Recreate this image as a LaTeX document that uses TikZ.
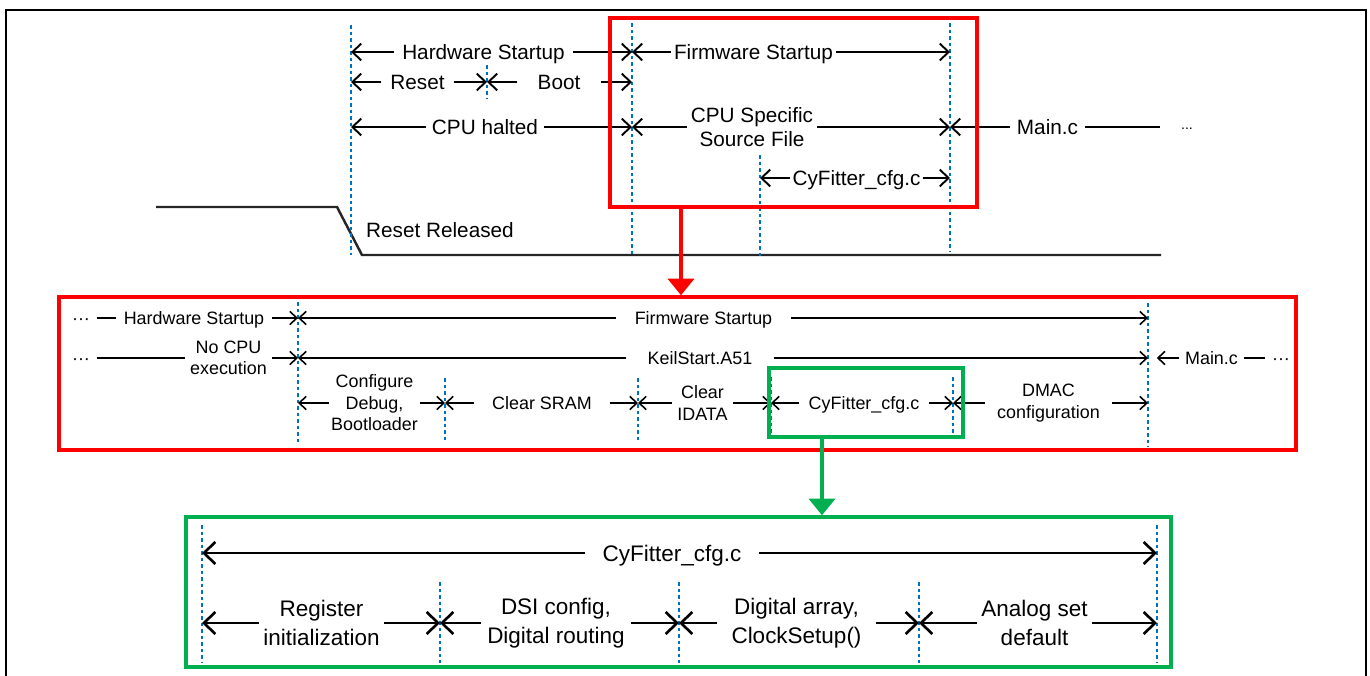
\documentclass[tikz,border=0pt]{standalone}
\usepackage{fontspec}
\setmainfont{Liberation Sans}
\usetikzlibrary{arrows.meta,positioning,fit}

\begin{document}
\begin{tikzpicture}
[x=0.02cm,y=-0.02cm,
% Styles
boundary/.style={boundcolor,line width=1.1pt,dash pattern=on 2.2pt off 1.5pt},
signal/.style={black!85,line width=1.4pt},
top span/.style={line width=1.1pt,-{Straight Barb[length=5pt,width=9.5pt]}},
mid span/.style={line width=0.9pt,-{Straight Barb[length=4pt,width=7.5pt]}},
bot span/.style={line width=1.5pt,-{Straight Barb[length=6.5pt,width=12.5pt]}},
top text/.style={font=\fontsize{11.8}{13.6}\selectfont,align=center,inner ysep=1pt},
mid text/.style={font=\fontsize{10.2}{12.2}\selectfont,align=center,inner ysep=1pt},
bot text/.style={font=\fontsize{12.8}{16.5}\selectfont,align=center,inner ysep=1pt},
top one/.style={top text,text height=8.4pt,text depth=0pt},
mid one/.style={mid text,text height=7.3pt,text depth=0pt},
bot one/.style={bot text,text height=9.2pt,text depth=0pt},
zoom box/.style={line width=2pt,inner sep=0pt},
zoom arrow/.style={line width=1.8pt,-{Triangle[length=9.5pt,width=15pt]}}]
% Colors
\colorlet{zoomred}{red}
\definecolor{zoomgreen}{RGB}{0,176,80}
\definecolor{boundcolor}{RGB}{0,112,192}
% The graphic
\useasboundingbox (0,0) rectangle (1370,676);
\draw[line width=1.1pt] (6,676) -- (6,10) -- (1366,10) -- (1366,676);

% Start-up overview
\draw[signal] (156,207) -- (337,207) -- (362,255) -- (1161,255);
\node[top one] (released) at (440,230) {Reset Released};
\foreach \n/\x/\ya/\yb in {a/351/25/255,b/487/65/98,c/632/23/257,d/760/155/257,e/950/23/252}
  {\draw[boundary] (\x,\ya) coordinate (t\n) -- (\x,\yb);}
\node[top one,inner xsep=4.5pt] (hwtop) at (483.5,52) {Hardware Startup};
\node[top one,inner xsep=1.5pt] (fwtop) at (753.5,52) {Firmware Startup};
\node[top one,inner xsep=5pt] (reset) at (417.5,82) {Reset};
\node[top one,inner xsep=11.5pt] (boot) at (559,82) {Boot};
\node[top one,inner xsep=3pt] (halted) at (485,127) {CPU halted};
\node[top text,inner xsep=2pt] (cpuspec) at (752,127) {CPU Specific\\Source File};
\node[top one,inner xsep=3.5pt] (maintop) at (1047.5,127) {Main.c};
\node[font=\fontsize{8}{9}\selectfont,inner xsep=12pt] (moretop) at (1187,129) {...};
\node[top one,inner xsep=1.5pt] (cyftop) at (856.5,178) {CyFitter\_cfg.c};
\foreach \lbl/\from/\to in {hwtop/ta/tc,fwtop/tc/te,reset/ta/tb,boot/tb/tc,halted/ta/tc,cpuspec/tc/te,cyftop/td/te}
  {\draw[top span] (\lbl.west) -- (\from |- \lbl);
   \draw[top span] (\lbl.east) -- (\to |- \lbl);}
\draw[top span] (maintop.west) -- (te |- maintop);
\draw[line width=1.1pt] (maintop.east) -- (maintop.east -| moretop.west);
\node[zoom box,draw=zoomred,fit={(610,18) (977,207)}] (topbox) {};

% Firmware start-up
\node[zoom box,draw=zoomred,fit={(59,297) (1296,450)}] (midbox) {};
\coordinate (redtail) at (681,207);
\draw[zoom arrow,zoomred] (redtail) -- (redtail |- midbox.north);
\foreach \n/\x/\ya/\yb in {a/298/302/445,b/445/378/442,c/638/378/442,d/771/377/442,e/953/377/442,f/1148/303/447}
  {\draw[boundary] (\x,\ya) coordinate (m\n) -- (\x,\yb);}
\node[mid one,inner xsep=4pt] (moreA) at (81,318) {···};
\node[mid one,inner xsep=4.5pt] (hwmid) at (194,318) {Hardware Startup};
\node[mid one,inner xsep=10.5pt] (fwmid) at (703.5,318) {Firmware Startup};
\node[mid one,inner xsep=4pt] (moreB) at (81,358) {···};
\node[mid text,inner xsep=2.5pt] (nocpu) at (228.5,358) {No CPU\\execution};
\node[mid one,inner xsep=12pt] (keil) at (700,358) {KeilStart.A51};
\node[mid one,inner xsep=3pt] (mainmid) at (1211.5,358) {Main.c};
\node[mid one,inner xsep=4pt] (moreC) at (1281,358) {···};
\node[mid text,inner xsep=1pt] (debug) at (374.5,403) {Configure\\Debug,\\Bootloader};
\node[mid one,inner xsep=10pt] (sram) at (542,403) {Clear SRAM};
\node[mid text,inner xsep=3pt] (idata) at (702.5,403) {Clear\\IDATA};
\node[mid one,inner xsep=5.5pt] (cyfmid) at (864,403) {CyFitter\_cfg.c};
\node[mid text,inner xsep=7pt] (dmac) at (1048.5,403) {DMAC\\configuration};
\foreach \lbl/\from/\to in {fwmid/ma/mf,keil/ma/mf,debug/ma/mb,sram/mb/mc,idata/mc/md,cyfmid/md/me,dmac/me/mf}
  {\draw[mid span] (\lbl.west) -- (\from |- \lbl);
   \draw[mid span] (\lbl.east) -- (\to |- \lbl);}
\draw[mid span] (hwmid.east) -- (ma |- hwmid);
\draw[mid span] (nocpu.east) -- (ma |- nocpu);
\draw[mid span,shorten >=5pt] (mainmid.west) -- (mf |- mainmid);
\draw[line width=0.9pt] (moreA.east) -- (hwmid.west);
\draw[line width=0.9pt] (moreB.east) -- (nocpu.west);
\draw[line width=0.9pt] (mainmid.east) -- (moreC.west);
\node[zoom box,draw=zoomgreen,fit={(769,368) (963,437)}] (cyfbox) {};

% CyFitter_cfg.c
\node[zoom box,draw=zoomgreen,fit={(186,517) (1171,667)}] (botbox) {};
\coordinate (greentail) at (822,437);
\draw[zoom arrow,zoomgreen] (greentail) -- (greentail |- botbox.north);
\foreach \n/\x/\ya/\yb in {a/202/525/663,b/440/582/663,c/679/582/663,d/919/582/663,e/1157/525/663}
  {\draw[boundary] (\x,\ya) coordinate (b\n) -- (\x,\yb);}
\node[bot one,inner xsep=10pt] (cyfbot) at (672,553) {CyFitter\_cfg.c};
\node[bot text,inner xsep=2.5pt] (reginit) at (321.5,623) {Register\\initialization};
\node[bot text,inner xsep=3.5pt] (dsi) at (556,623) {DSI config,\\Digital routing};
\node[bot text,inner xsep=8pt] (digarr) at (796.5,623) {Digital array,\\ClockSetup()};
\node[bot text,inner xsep=2.5pt] (analog) at (1034.5,623) {Analog set\\default};
\foreach \lbl/\from/\to in {cyfbot/ba/be,reginit/ba/bb,dsi/bb/bc,digarr/bc/bd,analog/bd/be}
  {\draw[bot span] (\lbl.west) -- (\from |- \lbl);
   \draw[bot span] (\lbl.east) -- (\to |- \lbl);}
\end{tikzpicture}
\end{document}
